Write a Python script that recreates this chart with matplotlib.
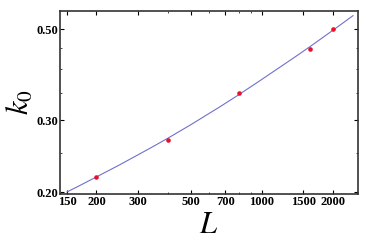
import numpy as np
import matplotlib
matplotlib.use("Agg")
import matplotlib.pyplot as plt
from matplotlib.ticker import FixedLocator, FixedFormatter, NullFormatter

plt.rcParams['mathtext.fontset'] = 'stix'

# data
L_pts = [200, 400, 800, 1600, 2000]
k_pts = [0.218, 0.268, 0.349, 0.448, 0.499]

# fitted curve, sampled by eye along the line
L_fit = [150, 170, 200, 250, 335, 400, 500, 665, 800, 980, 1380, 1600, 2000, 2430]
k_fit = [0.2003, 0.2077, 0.2180, 0.2331, 0.2556, 0.2707, 0.2920, 0.3231,
         0.3459, 0.3738, 0.4272, 0.4531, 0.4966, 0.5390]

x_ticks = [150, 200, 300, 500, 700, 1000, 1500, 2000]
y_ticks = [0.20, 0.30, 0.50]

fig = plt.figure(figsize=(3.74, 2.52), dpi=100)
ax = fig.add_axes([0.160, 0.230, 0.797, 0.726])

ax.plot(L_fit, k_fit, color='#7070cc', lw=0.8)
ax.plot(L_pts, k_pts, 'o', color='#e8102a', ms=3.3, mec='none')

ax.set_xscale('log')
ax.set_yscale('log')
ax.set_xlim(140, 2550)
ax.set_ylim(0.198, 0.553)

ax.xaxis.set_major_locator(FixedLocator(x_ticks))
ax.xaxis.set_major_formatter(FixedFormatter([str(v) for v in x_ticks]))
ax.xaxis.set_minor_formatter(NullFormatter())
ax.yaxis.set_major_locator(FixedLocator(y_ticks))
ax.yaxis.set_major_formatter(FixedFormatter(['%.2f' % v for v in y_ticks]))
ax.yaxis.set_minor_locator(FixedLocator([0.25, 0.35, 0.40, 0.45]))
ax.yaxis.set_minor_formatter(NullFormatter())

ax.tick_params(which='both', direction='in', top=True, right=True, pad=1.5)
ax.tick_params(which='major', length=3, width=0.8)
ax.tick_params(which='minor', length=1.5, width=0.5)
for lab in ax.get_xticklabels() + ax.get_yticklabels():
    lab.set_fontfamily('Liberation Serif')
    lab.set_fontweight('bold')
    lab.set_fontsize(9)

for s in ax.spines.values():
    s.set_linewidth(1.2)
    s.set_color('#333333')

ax.set_xlabel(r'$L$', fontsize=22, labelpad=1)
ax.set_ylabel(r'$k_0$', fontsize=22, labelpad=1)

fig.savefig('out.png', dpi=100)
